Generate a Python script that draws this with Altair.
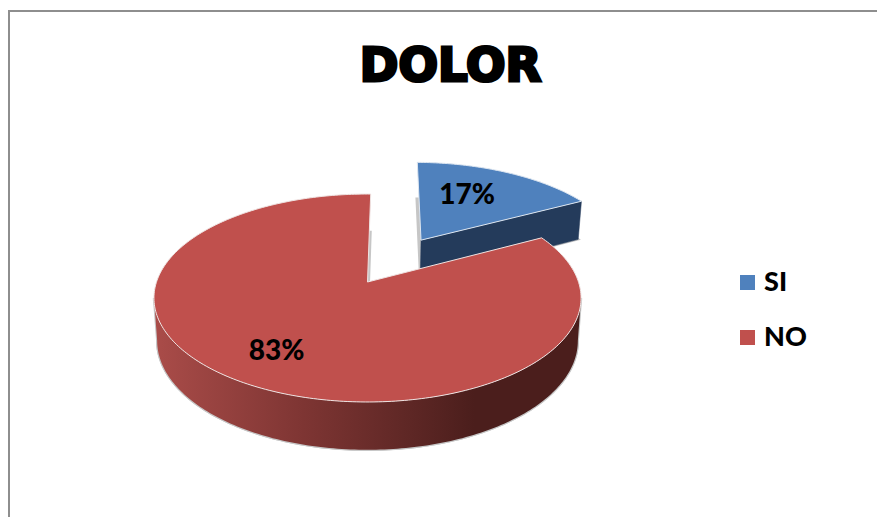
import math
import altair as alt

# Pie values and series styling
CATEGORIES = ["SI", "NO"]
VALUES = [17, 83]
LABELS = ["17%", "83%"]
TOP_COLORS = ["#4F81BD", "#C0504D"]
SIDE_COLOR_SI = "#243B5B"
SIDE_STOPS_NO = [(0.0, "#AA4C49"), (0.35, "#7E3533"), (0.6, "#5E2725"), (0.75, "#4B1E1C"), (1.0, "#4B1E1C")]

# Camera model: a unit disc seen in perspective
W, H = 877, 517
CX, CY = 367.5, 282.0
RX, RY = 211.0, 101.5
PERSP = 0.154
DEPTH = 42.0
BASE_SCALE = 0.985
START_DEG = 1.0
EXPLODE = 0.517


def project(u, v, lower=False):
    """Map disc coordinates to pixels; lower=True gives the bottom face of the cylinder."""
    w = 1 + PERSP * v
    s = BASE_SCALE if lower else 1.0
    drop = DEPTH / w if lower else 0.0
    return [CX + s * RX * u / w, CY - s * RY * v / w + drop]


def on_disc(deg, radius=1.0, offset=(0.0, 0.0)):
    t = math.radians(deg)
    return offset[0] + radius * math.sin(t), offset[1] + radius * math.cos(t)


def arc_points(a0, a1, offset=(0.0, 0.0), lower=False):
    n = max(2, int(abs(a1 - a0)))
    return [project(*on_disc(a0 + (a1 - a0) * i / n, 1.0, offset), lower) for i in range(n + 1)]


def polygon(points, name=None):
    ring = points + [points[0]]
    return {
        "type": "Feature",
        "properties": {"name": name},
        "geometry": {"type": "Polygon", "coordinates": [ring]},
    }


def slice_face(a0, a1, offset=(0.0, 0.0), lower=False):
    return arc_points(a0, a1, offset, lower) + [project(offset[0], offset[1], lower)]


# Slice angles come from the values
total = sum(VALUES)
si_sweep = 360 * VALUES[0] / total
si_start, si_end = START_DEG, START_DEG + si_sweep
no_start, no_end = si_end, START_DEG + 360
si_mid = math.radians((si_start + si_end) / 2)
si_offset = (EXPLODE * math.sin(si_mid), EXPLODE * math.cos(si_mid))

si_top = polygon(slice_face(si_start, si_end, si_offset), CATEGORIES[0])
no_top = polygon(slice_face(no_start, no_end), CATEGORIES[1])

si_edge = [
    project(*si_offset),
    project(*on_disc(si_end, 1.0, si_offset)),
    project(*on_disc(si_end, 1.0, si_offset), True),
    project(*si_offset, True),
]
si_side = polygon(si_edge)

# Front of the cylinder runs between the two silhouette angles
sil = math.degrees(math.acos(-PERSP))
no_side = polygon(arc_points(sil, 360 - sil) + arc_points(360 - sil, sil, lower=True))

si_under = polygon(slice_face(si_start, si_end, si_offset, True))
no_under = polygon(slice_face(no_start, no_end, lower=True))

projection = alt.Projection(type="identity", scale=1, translate=[0, 0])


def shape(features, **mark):
    return alt.Chart(alt.Data(values=features)).mark_geoshape(**mark).project(**projection.to_dict())


outline = shape([si_under, no_under, no_side], fill="#C6C6C6", stroke="#C6C6C6", strokeWidth=2.2)
side_si = shape([si_side], fill=SIDE_COLOR_SI, stroke=SIDE_COLOR_SI, strokeWidth=0.5)
top_si = shape([si_top], stroke="#DDE6F1", strokeWidth=1).encode(
    color=alt.Color(
        "properties.name:N",
        scale=alt.Scale(domain=CATEGORIES, range=TOP_COLORS),
        legend=alt.Legend(
            title=None,
            orient="none",
            legendX=734,
            legendY=269,
            symbolType="square",
            symbolSize=225,
            symbolStrokeWidth=0,
            labelFont="Lato",
            labelFontWeight=900,
            labelFontSize=27,
            labelColor="#000000",
            labelOffset=3,
            rowPadding=27,
        ),
    )
)
side_no = shape(
    [no_side],
    fill=alt.Gradient(
        gradient="linear",
        x1=0, x2=1, y1=0, y2=0,
        stops=[alt.GradientStop(offset=o, color=c) for o, c in SIDE_STOPS_NO],
    ),
)
top_no = shape([no_top], stroke="#EFE3E2", strokeWidth=1).encode(
    color=alt.Color("properties.name:N", scale=alt.Scale(domain=CATEGORIES, range=TOP_COLORS))
)

# Percentage labels sit at a polar position on their slice
si_label = project(*on_disc(26.2, 0.62, si_offset))
no_label = project(*on_disc(212.9, 0.72))
label_rows = [
    {"label": LABELS[0], "px": si_label[0], "py": si_label[1]},
    {"label": LABELS[1], "px": no_label[0], "py": no_label[1]},
]
labels = alt.Chart(alt.Data(values=label_rows)).mark_text(
    font="Lato", fontWeight=900, fontSize=28, color="#000000", baseline="middle", align="center", dy=2
).encode(
    x=alt.X("px:Q", scale=None),
    y=alt.Y("py:Q", scale=None),
    text="label:N",
)

title = alt.Chart(alt.Data(values=[{"t": "DOLOR"}])).mark_text(
    font="DejaVu Sans", fontWeight="bold", fontSize=46.5, color="#000000",
    stroke="#000000", strokeWidth=3, baseline="middle", align="center",
).encode(x=alt.value(450.5), y=alt.value(67), text="t:N")

frame_top = alt.Chart(alt.Data(values=[{"k": 0}])).mark_rule(color="#8E8E8E", strokeWidth=2).encode(
    x=alt.value(8), x2=alt.value(W), y=alt.value(11)
)
frame_left = alt.Chart(alt.Data(values=[{"k": 0}])).mark_rule(color="#8E8E8E", strokeWidth=2).encode(
    x=alt.value(9), y=alt.value(10), y2=alt.value(H)
)

chart = alt.layer(
    frame_top, frame_left, outline, side_si, top_si, side_no, top_no, labels, title
).resolve_scale(color="shared").properties(
    width=W, height=H, padding=0, autosize=alt.AutoSizeParams(type="none"), background="#FFFFFF"
).configure_view(stroke=None)

chart.save("out.html", embed_options={"renderer": "svg", "actions": False})
